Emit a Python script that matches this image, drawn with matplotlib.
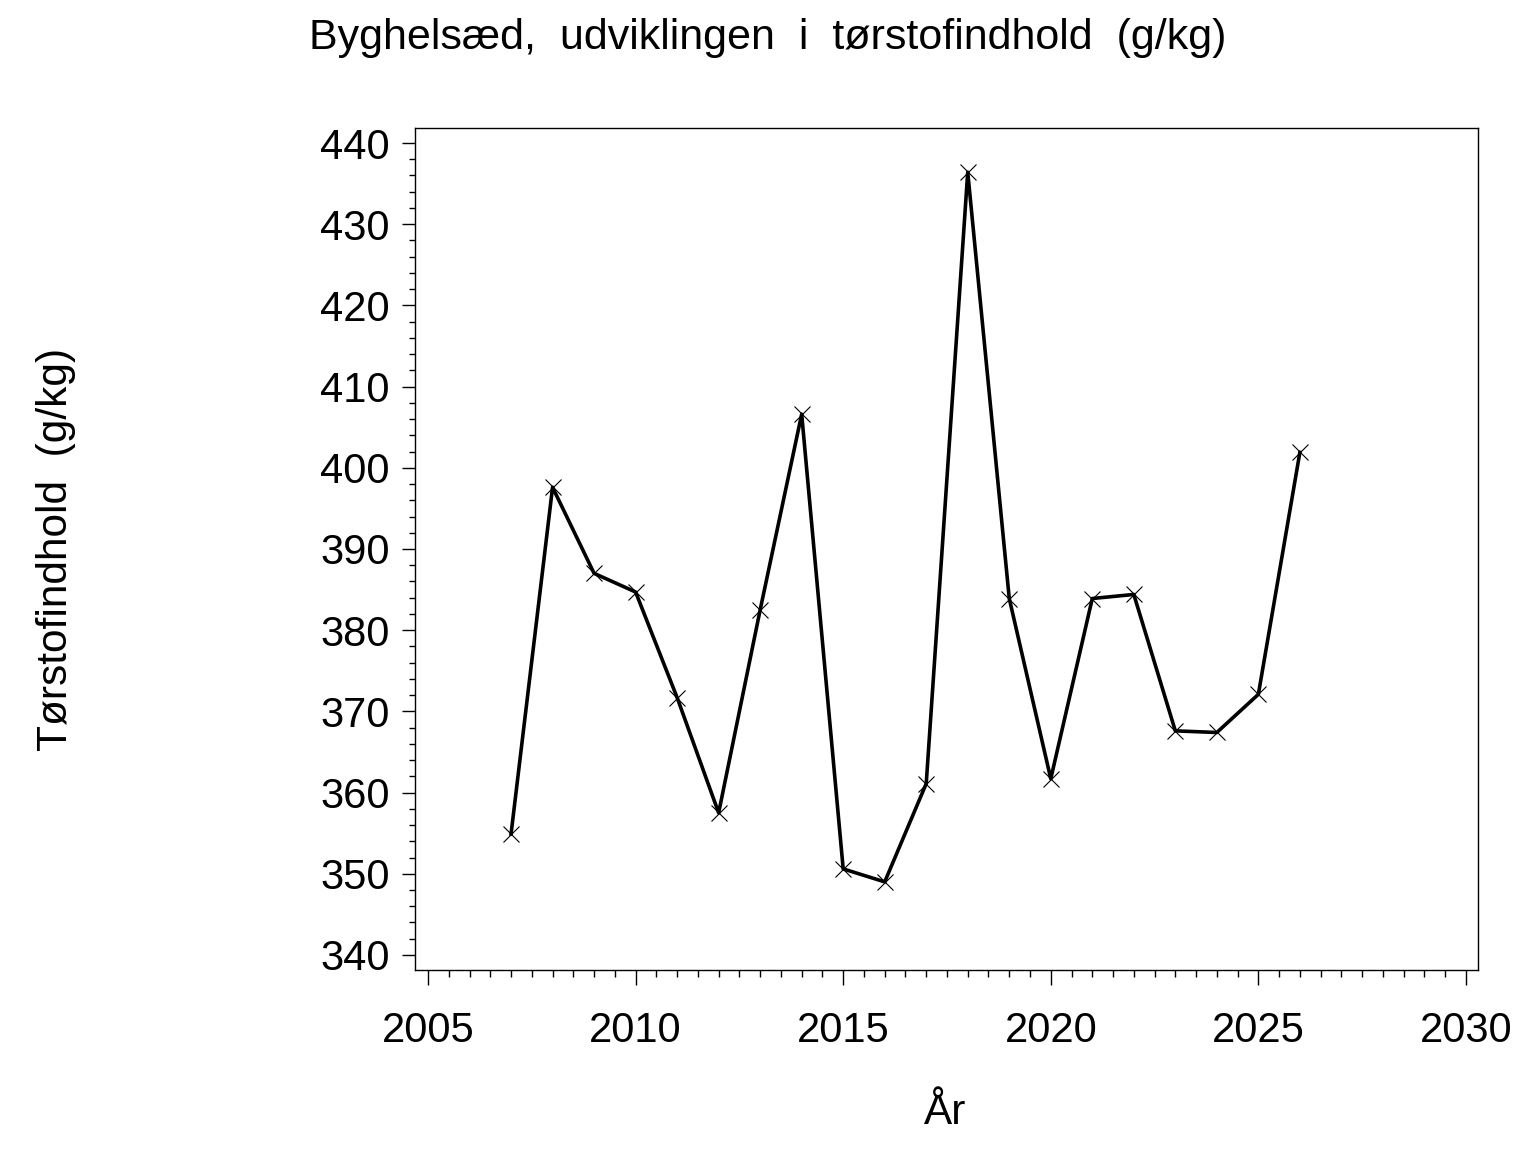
import matplotlib
matplotlib.use('Agg')
import matplotlib.pyplot as plt
from matplotlib.ticker import MultipleLocator

# data
years = [2007, 2008, 2009, 2010, 2011, 2012, 2013, 2014, 2015, 2016,
         2017, 2018, 2019, 2020, 2021, 2022, 2023, 2024, 2025, 2026]
torstof = [354.9, 397.6, 387.0, 384.7, 371.7, 357.5, 382.5, 406.6, 350.6, 349.0,
           361.1, 436.4, 383.9, 361.7, 383.9, 384.4, 367.6, 367.4, 372.1, 401.9]

x_ticks = [2005, 2010, 2015, 2020, 2025, 2030]
y_ticks = [340, 350, 360, 370, 380, 390, 400, 410, 420, 430, 440]

plt.rcParams['font.family'] = ['Liberation Sans', 'DejaVu Sans']

fig = plt.figure(figsize=(15.36, 11.52), dpi=100)
ax = fig.add_axes([0.2702, 0.158, 0.6920, 0.7309])

ax.plot(years, torstof, color='black', linewidth=2.6, marker='x',
        markersize=12, markeredgewidth=0.8)

ax.set_xlim(2004.687, 2030.289)
ax.set_ylim(338.15, 441.85)
ax.set_xticks(x_ticks)
ax.set_yticks(y_ticks)
ax.xaxis.set_minor_locator(MultipleLocator(0.5))
ax.yaxis.set_minor_locator(MultipleLocator(2))

ax.tick_params(axis='x', which='major', length=10.8, width=1.0, pad=19, labelsize=30)
ax.tick_params(axis='x', which='minor', length=5, width=1.0)
ax.tick_params(axis='y', which='major', length=9.4, width=1.0, pad=9, labelsize=30)
ax.tick_params(axis='y', which='minor', length=4.6, width=1.0)
for s in ax.spines.values():
    s.set_linewidth(1.0)

fig.text(0.5, 0.967, 'Byghelsæd,  udviklingen  i  tørstofindhold  (g/kg)',
         ha='center', va='center', fontsize=31)
fig.text(0.0365, 0.5234, 'Tørstofindhold  (g/kg)', rotation=90,
         ha='center', va='center', fontsize=30.5)
fig.text(0.6155, 0.034, 'År', ha='center', va='center', fontsize=30.5)

fig.savefig('out.png', dpi=100, facecolor='white')
plt.close(fig)
